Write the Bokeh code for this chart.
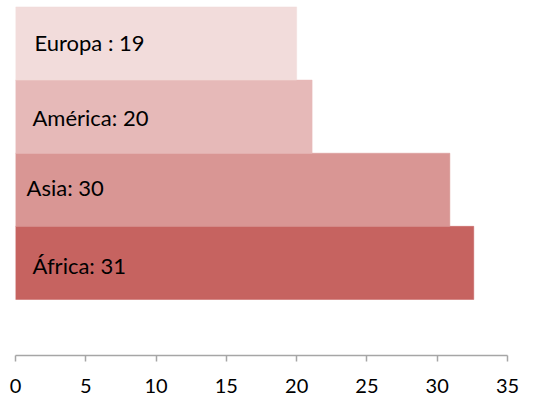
from bokeh.plotting import figure
from bokeh.models import Range1d, ColumnDataSource, FixedTicker
from bokeh.embed import file_html
from bokeh.resources import INLINE
from bokeh.core.properties import value

# Data (bottom to top)
regions = ["África", "Asia", "América", "Europa"]
values = [31, 30, 20, 19]
bar_lengths = [32.6, 30.9, 21.1, 20.0]
label_texts = ["África: 31", "Asia: 30", "América: 20", "Europa : 19"]
x_ticks = [0, 5, 10, 15, 20, 25, 30, 35]

# Styles
colors = ["#C66360", "#D99694", "#E6B9B8", "#F2DCDB"]
label_dx = [17, 11, 17, 19]
label_dy = [3, -2, 1, -1]

idx = list(range(len(regions)))
src = ColumnDataSource(dict(y=idx, right=bar_lengths, color=colors,
                            label=label_texts, dx=label_dx, dy=label_dy,
                            x0=[0] * len(regions)))

p = figure(width=545, height=398, output_backend="svg", toolbar_location=None,
           x_range=Range1d(0, 35), y_range=Range1d(-1.266, 3.588),
           min_border_left=15, min_border_right=38, min_border_top=0,
           min_border_bottom=43, y_axis_location=None)
p.outline_line_color = None
p.xgrid.visible = False
p.ygrid.visible = False
p.background_fill_color = "white"
p.border_fill_color = "white"

p.hbar(y="y", left=0, right="right", height=1.0, fill_color="color",
       line_color="color", line_width=0.5, source=src)

p.text(x="x0", y="y", text="label", x_offset="dx", y_offset="dy",
       text_baseline="middle", text_align="left",
       text_font=value("Lato"), text_font_size="22px", text_color="#000000",
       source=src)

ax = p.xaxis[0]
ax.ticker = FixedTicker(ticks=x_ticks)
ax.axis_line_color = "#A6A6A6"
ax.axis_line_width = 1.5
ax.major_tick_line_color = "#A6A6A6"
ax.major_tick_line_width = 1.5
ax.major_tick_out = 6
ax.major_tick_in = 0
ax.minor_tick_line_color = None
ax.major_label_text_font = "Lato"
ax.major_label_text_font_size = "20px"
ax.major_label_text_color = "#000000"
ax.major_label_standoff = 17

open("out.html", "w").write(file_html(p, INLINE))
